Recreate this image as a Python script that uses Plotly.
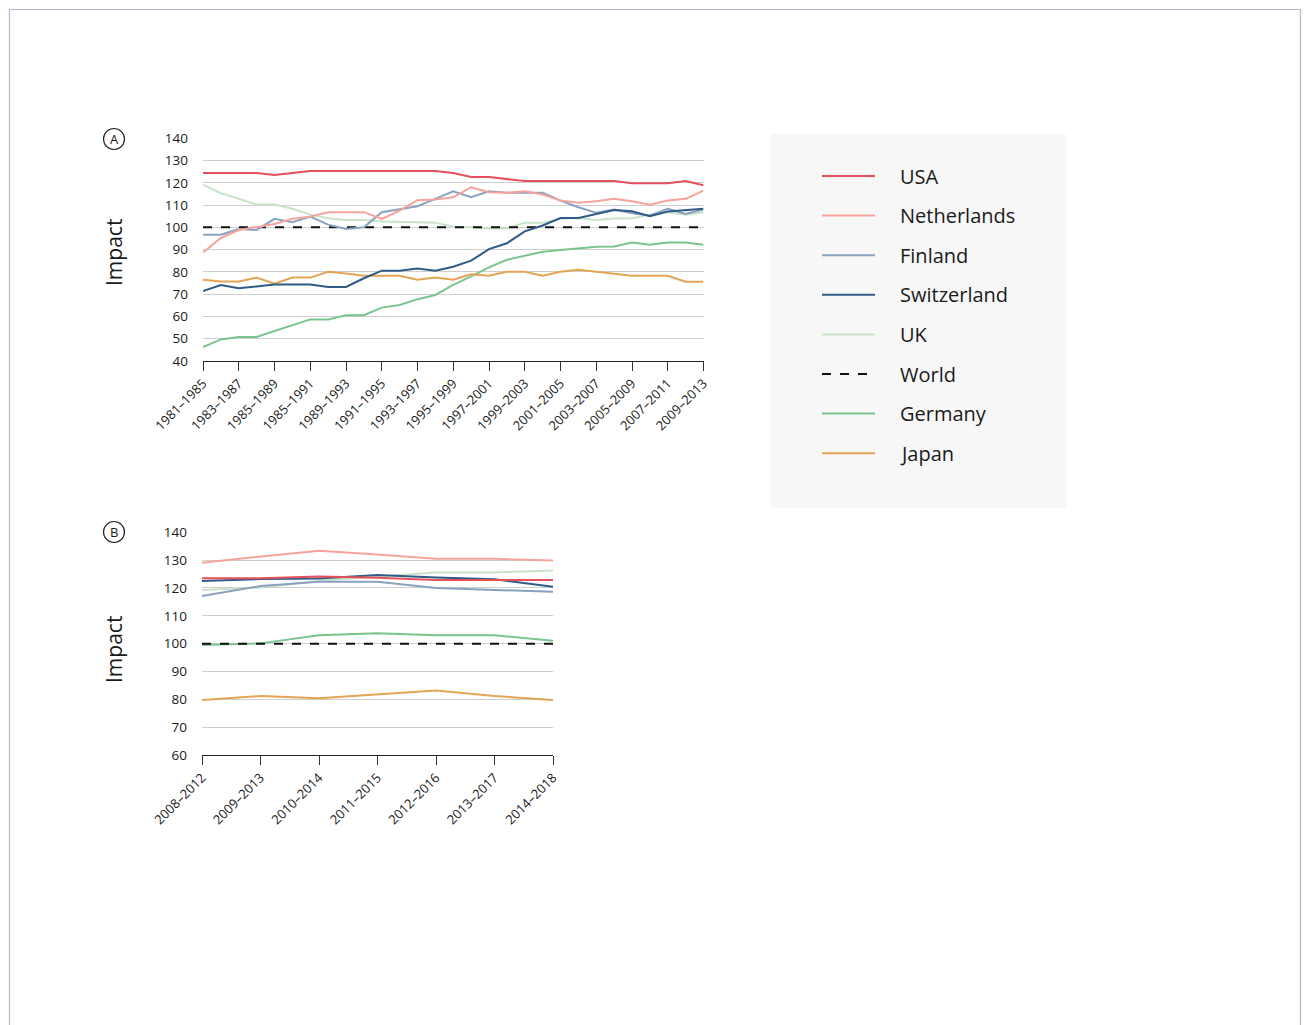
import plotly.graph_objects as go

W, H = 1308, 1025

# ---- Panel A: rolling five-year windows ----
periods_a = [f"{y}–{y + 4}" for y in range(1981, 2010)]
ticks_a = ["1981–1985", "1983–1987", "1985–1989", "1985–1991", "1989–1993",
           "1991–1995", "1993–1997", "1995–1999", "1997–2001", "1999–2003",
           "2001–2005", "2003–2007", "2005–2009", "2007–2011", "2009–2013"]

usa_a = [124.4, 124.4, 124.4, 124.4, 123.5, 124.5, 125.3, 125.3, 125.3, 125.3,
         125.3, 125.3, 125.3, 125.3, 124.4, 122.6, 122.6, 121.7, 120.8, 120.8,
         120.8, 120.8, 120.8, 120.8, 119.8, 119.8, 119.8, 120.8, 118.9]
netherlands_a = [88.7, 95.2, 98.8, 100.0, 101.5, 103.8, 104.8, 106.8, 106.8, 106.8,
                 103.8, 107.5, 112.2, 112.5, 113.5, 118.0, 115.8, 115.5, 116.2, 114.7,
                 112.0, 111.0, 111.7, 112.8, 111.7, 110.2, 112.0, 112.8, 116.5]
finland_a = [96.7, 96.7, 99.2, 98.8, 103.8, 102.3, 104.8, 101.2, 99.2, 100.0,
             106.8, 108.3, 109.5, 112.8, 116.2, 113.5, 116.2, 115.5, 115.5, 115.5,
             112.0, 109.0, 106.5, 108.0, 106.3, 105.3, 108.3, 106.0, 108.0]
switzerland_a = [71.4, 74.1, 72.6, 73.5, 74.3, 74.3, 74.3, 73.2, 73.2, 77.1,
                 80.5, 80.5, 81.5, 80.5, 82.3, 85.0, 90.2, 92.8, 98.2, 100.8,
                 104.2, 104.2, 106.0, 107.8, 107.2, 105.0, 107.1, 107.8, 108.3]
uk_a = [119.2, 115.3, 112.8, 110.2, 110.2, 108.3, 105.7, 104.1, 103.3, 103.3,
        102.6, 102.3, 102.3, 102.1, 100.3, 100.0, 99.5, 99.5, 102.1, 102.1,
        103.8, 104.2, 103.3, 103.9, 104.1, 105.7, 106.8, 105.6, 106.8]
world_a = [100] * 29
germany_a = [46.2, 49.6, 50.7, 50.7, 53.4, 55.9, 58.6, 58.6, 60.5, 60.5,
             63.9, 65.1, 67.7, 69.6, 74.1, 77.9, 82.0, 85.4, 87.2, 89.0,
             89.8, 90.5, 91.3, 91.4, 93.2, 92.2, 93.2, 93.2, 92.2]
japan_a = [76.4, 75.6, 75.6, 77.4, 74.7, 77.4, 77.4, 80.0, 79.2, 78.2,
           78.2, 78.2, 76.4, 77.4, 76.4, 78.9, 78.2, 80.0, 80.0, 78.2,
           80.0, 80.9, 80.0, 79.2, 78.2, 78.2, 78.2, 75.5, 75.5]

# ---- Panel B: recent windows ----
periods_b = ["2008–2012", "2009–2013", "2010–2014", "2011–2015",
             "2012–2016", "2013–2017", "2014–2018"]
usa_b = [123.5, 123.5, 124.1, 123.7, 122.9, 122.9, 122.9]
netherlands_b = [129.1, 131.3, 133.4, 132.0, 130.5, 130.5, 129.9]
finland_b = [117.1, 120.7, 122.2, 122.2, 120.0, 119.3, 118.6]
switzerland_b = [122.5, 123.2, 123.4, 124.7, 123.8, 123.1, 120.4]
uk_b = [119.3, 120.1, 122.6, 124.0, 125.6, 125.6, 126.3]
world_b = [100] * 7
germany_b = [99.5, 100.1, 103.0, 103.7, 103.0, 103.0, 101.0]
japan_b = [79.8, 81.2, 80.4, 81.9, 83.2, 81.2, 79.8]

names = ["USA", "Netherlands", "Finland", "Switzerland", "UK", "World", "Germany", "Japan"]
colors = ["#e5505a", "#f5a39b", "#8aa1c1", "#2f5b86", "#c8e3c8", "#111111", "#7cc48f", "#e3a455"]
dashes = ["solid", "solid", "solid", "solid", "solid", "dash", "solid", "solid"]

series_a = [usa_a, netherlands_a, finland_a, switzerland_a, uk_a, world_a, germany_a, japan_a]
series_b = [usa_b, netherlands_b, finland_b, switzerland_b, uk_b, world_b, germany_b, japan_b]

# draw order: light lines first, strong lines last
order = [4, 6, 7, 5, 2, 1, 3, 0]

FONT = "Open Sans"
TXT = "#1a1a1a"

fig = go.Figure()
for i in order:
    fig.add_trace(go.Scatter(x=periods_a, y=series_a[i], mode="lines", name=names[i],
                             line=dict(color=colors[i], width=2, dash=dashes[i]),
                             xaxis="x", yaxis="y", showlegend=False))
for i in order:
    fig.add_trace(go.Scatter(x=periods_b, y=series_b[i], mode="lines", name=names[i],
                             line=dict(color=colors[i], width=2, dash=dashes[i]),
                             xaxis="x2", yaxis="y2", showlegend=False))


def px(x):
    return x / W


def py(y):
    return 1 - y / H


xa_common = dict(type="category", showgrid=False, showline=True, linecolor="#222",
                 linewidth=1, ticks="outside", ticklen=9, tickcolor="#333", tickwidth=1,
                 tickangle=-45, tickfont=dict(family=FONT, size=13, color=TXT),
                 zeroline=False, fixedrange=True, automargin=False)
ya_common = dict(showgrid=True, gridcolor="#cfcfcf", gridwidth=1, zeroline=False,
                 showline=False, ticks="", dtick=10, ticklabelstandoff=14,
                 tickfont=dict(family=FONT, size=13.5, color=TXT), fixedrange=True,
                 automargin=False)

fig.update_layout(
    width=W, height=H, margin=dict(l=0, r=0, t=0, b=0, autoexpand=False),
    paper_bgcolor="white", plot_bgcolor="white",
    xaxis=dict(domain=[px(203), px(703.5)], range=[0, 28],
               tickvals=periods_a[::2], ticktext=ticks_a, anchor="y", **xa_common),
    yaxis=dict(domain=[py(360.8), py(138.3)], range=[40, 140], anchor="x", **ya_common),
    xaxis2=dict(domain=[px(202), px(553)], range=[0, 6], anchor="y2", **xa_common),
    yaxis2=dict(domain=[py(755), py(532.3)], range=[60, 140], anchor="x2", **ya_common),
)

shapes = []
annotations = []

# page frame
shapes.append(dict(type="rect", xref="paper", yref="paper",
                   x0=px(9.5), x1=px(1300.5), y0=py(1040), y1=py(9.5),
                   line=dict(color="#aebacb", width=1.2), fillcolor="rgba(0,0,0,0)"))

# panel letters and axis titles
for letter, cy, ty in [("A", 139, 253), ("B", 532, 650)]:
    r = 10.5
    shapes.append(dict(type="circle", xref="paper", yref="paper",
                       x0=px(114 - r), x1=px(114 + r), y0=py(cy + r), y1=py(cy - r),
                       line=dict(color="#222", width=1.2)))
    annotations.append(dict(text=letter, xref="paper", yref="paper", x=px(114), y=py(cy),
                            showarrow=False, xanchor="center", yanchor="middle",
                            font=dict(family=FONT, size=13, color=TXT)))
    annotations.append(dict(text="Impact", xref="paper", yref="paper", x=px(114), y=py(ty),
                            showarrow=False, textangle=-90, xanchor="center", yanchor="middle",
                            font=dict(family=FONT, size=21, color=TXT)))

# legend panel
shapes.append(dict(type="rect", xref="paper", yref="paper", layer="below",
                   x0=px(771), x1=px(1066), y0=py(508), y1=py(134),
                   line=dict(width=0), fillcolor="#f7f7f7"))
for k, (nm, col, ds) in enumerate(zip(names, colors, dashes)):
    yy = 176 + k * 39.6
    shapes.append(dict(type="line", xref="paper", yref="paper",
                       x0=px(822), x1=px(875), y0=py(yy), y1=py(yy),
                       line=dict(color=col, width=2, dash=ds)))
    annotations.append(dict(text=nm, xref="paper", yref="paper", x=px(898), y=py(yy),
                            showarrow=False, xanchor="left", yanchor="middle",
                            font=dict(family=FONT, size=20, color=TXT)))

fig.update_layout(shapes=shapes, annotations=annotations)
fig.write_html("out.html")
